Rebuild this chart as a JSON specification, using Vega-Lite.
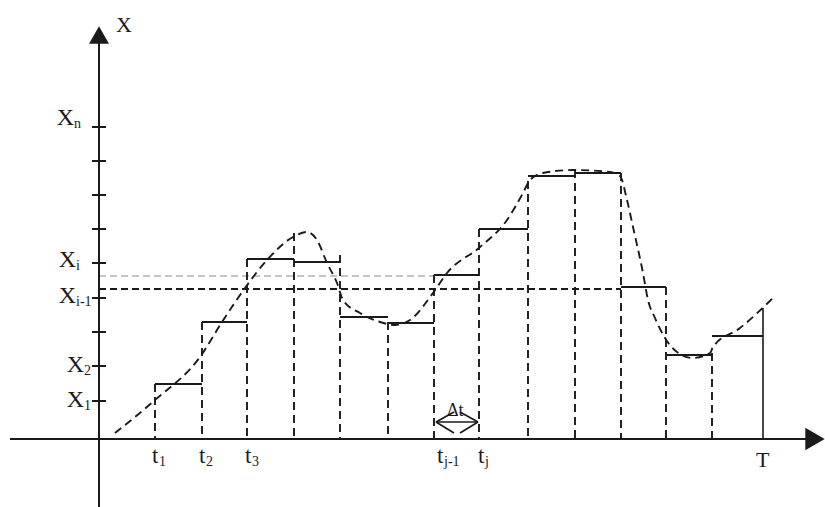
{
  "$schema": "https://vega.github.io/schema/vega-lite/v6.json",
  "width": 825,
  "height": 507,
  "autosize": "none",
  "padding": 0,
  "background": "white",
  "config": {"view": {"stroke": null}},
  "datasets": {
    "axes": [
      {"t": -89, "t2": 712, "x": 0, "x2": 0},
      {"t": 0, "t2": 0, "x": -68, "x2": 399}
    ],
    "arrows": [
      {"t": 0, "x": 404, "dir": "up"},
      {"t": 716, "x": 0, "dir": "right"}
    ],
    "ticks": [
      {"t": -7, "t2": 7, "x": 38}, {"t": -7, "t2": 7, "x": 73}, {"t": -7, "t2": 7, "x": 107},
      {"t": -7, "t2": 7, "x": 141}, {"t": -7, "t2": 7, "x": 176}, {"t": -7, "t2": 7, "x": 210},
      {"t": -7, "t2": 7, "x": 244}, {"t": -7, "t2": 7, "x": 278}, {"t": -7, "t2": 7, "x": 312}
    ],
    "steps": [
      {"t": 56, "t2": 103, "x": 55},
      {"t": 103, "t2": 148, "x": 117},
      {"t": 148, "t2": 195, "x": 180},
      {"t": 195, "t2": 241, "x": 177},
      {"t": 241, "t2": 289, "x": 122},
      {"t": 289, "t2": 335, "x": 116},
      {"t": 335, "t2": 380, "x": 164},
      {"t": 380, "t2": 429, "x": 210},
      {"t": 429, "t2": 476, "x": 263},
      {"t": 476, "t2": 522, "x": 266},
      {"t": 522, "t2": 567, "x": 152},
      {"t": 567, "t2": 613, "x": 84},
      {"t": 613, "t2": 664, "x": 103}
    ],
    "verticals": [
      {"t": 56, "x0": 0, "x": 55},
      {"t": 103, "x0": 0, "x": 117},
      {"t": 148, "x0": 0, "x": 180},
      {"t": 195, "x0": 0, "x": 206},
      {"t": 241, "x0": 0, "x": 184},
      {"t": 289, "x0": 0, "x": 117},
      {"t": 335, "x0": 0, "x": 164},
      {"t": 380, "x0": 0, "x": 210},
      {"t": 429, "x0": 0, "x": 258},
      {"t": 476, "x0": 0, "x": 269},
      {"t": 522, "x0": 0, "x": 266},
      {"t": 567, "x0": 0, "x": 152},
      {"t": 613, "x0": 0, "x": 86}
    ],
    "endline": [{"t": 664, "x0": 0, "x": 131}],
    "levelLight": [{"t": 0, "t2": 335, "x": 163}],
    "levelDark": [{"t": 0, "t2": 522, "x": 150}],
    "curve": [
      {"t": 16, "x": 6}, {"t": 56, "x": 39}, {"t": 101, "x": 82},
      {"t": 123, "x": 117}, {"t": 146, "x": 151}, {"t": 168, "x": 179},
      {"t": 194, "x": 202}, {"t": 208, "x": 207}, {"t": 218, "x": 199},
      {"t": 228, "x": 176}, {"t": 238, "x": 156}, {"t": 244, "x": 139},
      {"t": 261, "x": 126}, {"t": 281, "x": 117}, {"t": 296, "x": 114},
      {"t": 311, "x": 119}, {"t": 334, "x": 146}, {"t": 348, "x": 166},
      {"t": 381, "x": 192}, {"t": 408, "x": 219}, {"t": 424, "x": 246},
      {"t": 431, "x": 259}, {"t": 444, "x": 266}, {"t": 474, "x": 269},
      {"t": 511, "x": 267}, {"t": 521, "x": 263}, {"t": 528, "x": 239},
      {"t": 534, "x": 212}, {"t": 544, "x": 166}, {"t": 549, "x": 139},
      {"t": 556, "x": 121}, {"t": 566, "x": 101}, {"t": 578, "x": 87},
      {"t": 594, "x": 81}, {"t": 611, "x": 86}, {"t": 614, "x": 92},
      {"t": 641, "x": 111}, {"t": 674, "x": 141}
    ],
    "dtArrow": [
      {"t": 337, "t2": 379, "x": 17, "x2": 17},
      {"t": 337, "t2": 355, "x": 17, "x2": 27},
      {"t": 337, "t2": 355, "x": 17, "x2": 6},
      {"t": 379, "t2": 361, "x": 17, "x2": 27},
      {"t": 379, "t2": 361, "x": 17, "x2": 6}
    ],
    "yLabels": [
      {"base": "X", "sub": "n", "t": -25, "x": 314},
      {"base": "X", "sub": "i", "t": -23, "x": 172},
      {"base": "X", "sub": "i-1", "t": -23, "x": 136},
      {"base": "X", "sub": "2", "t": -15, "x": 67},
      {"base": "X", "sub": "1", "t": -15, "x": 32}
    ],
    "tLabels": [
      {"base": "t", "sub": "1", "t": 53, "x": -24},
      {"base": "t", "sub": "2", "t": 100, "x": -24},
      {"base": "t", "sub": "3", "t": 146, "x": -24},
      {"base": "t", "sub": "j-1", "t": 338, "x": -24},
      {"base": "t", "sub": "j", "t": 379, "x": -24}
    ],
    "bigLabels": [
      {"text": "X", "t": 17, "x": 407},
      {"text": "T", "t": 657, "x": -28}
    ],
    "smallLabels": [
      {"text": "Δt", "t": 348, "x": 23}
    ]
  },
  "encoding": {
    "x": {"field": "t", "type": "quantitative", "scale": {"domain": [-99, 726], "nice": false, "zero": false}, "axis": null},
    "y": {"field": "x", "type": "quantitative", "scale": {"domain": [-68, 439], "nice": false, "zero": false}, "axis": null}
  },
  "layer": [
    {
      "data": {"name": "levelLight"},
      "mark": {"type": "rule", "strokeDash": [7, 4], "strokeWidth": 1.2, "color": "#8a8a8a"},
      "encoding": {"x2": {"field": "t2"}}
    },
    {
      "data": {"name": "levelDark"},
      "mark": {"type": "rule", "strokeDash": [7, 4], "strokeWidth": 1.9, "color": "#1a1a1a"},
      "encoding": {"x2": {"field": "t2"}}
    },
    {
      "data": {"name": "verticals"},
      "mark": {"type": "rule", "strokeDash": [8, 5], "strokeWidth": 1.9, "color": "#1a1a1a"},
      "encoding": {"y2": {"field": "x0"}}
    },
    {
      "data": {"name": "curve"},
      "mark": {"type": "line", "interpolate": "monotone", "strokeDash": [8, 5], "strokeWidth": 1.9, "color": "#1a1a1a"},
      "encoding": {}
    },
    {
      "data": {"name": "steps"},
      "mark": {"type": "rule", "strokeWidth": 1.9, "color": "#1a1a1a"},
      "encoding": {"x2": {"field": "t2"}}
    },
    {
      "data": {"name": "endline"},
      "mark": {"type": "rule", "strokeWidth": 1.6, "color": "#1a1a1a"},
      "encoding": {"y2": {"field": "x0"}}
    },
    {
      "data": {"name": "axes"},
      "mark": {"type": "rule", "strokeWidth": 2, "color": "#1a1a1a"},
      "encoding": {"x2": {"field": "t2"}, "y2": {"field": "x2"}}
    },
    {
      "data": {"name": "ticks"},
      "mark": {"type": "rule", "strokeWidth": 2, "color": "#1a1a1a"},
      "encoding": {"x2": {"field": "t2"}}
    },
    {
      "data": {"name": "dtArrow"},
      "mark": {"type": "rule", "strokeWidth": 1.7, "color": "#1a1a1a"},
      "encoding": {"x2": {"field": "t2"}, "y2": {"field": "x2"}}
    },
    {
      "data": {"name": "arrows"},
      "mark": {"type": "point", "filled": true, "color": "#1a1a1a", "opacity": 1},
      "encoding": {
        "shape": {"field": "dir", "type": "nominal", "scale": {"domain": ["up", "right"], "range": ["triangle-up", "triangle-right"]}, "legend": null},
        "size": {"field": "dir", "type": "nominal", "scale": {"domain": ["up", "right"], "range": [400, 500]}, "legend": null}
      }
    },
    {
      "data": {"name": "yLabels"},
      "mark": {"type": "text", "align": "right", "baseline": "alphabetic", "font": "Liberation Serif", "fontSize": 24, "color": "#1a1a1a"},
      "encoding": {"text": {"field": "base"}}
    },
    {
      "data": {"name": "yLabels"},
      "mark": {"type": "text", "align": "left", "baseline": "alphabetic", "font": "Liberation Serif", "fontSize": 14, "dx": 0, "dy": 3, "color": "#1a1a1a"},
      "encoding": {"text": {"field": "sub"}}
    },
    {
      "data": {"name": "tLabels"},
      "mark": {"type": "text", "align": "left", "baseline": "alphabetic", "font": "Liberation Serif", "fontSize": 23, "color": "#1a1a1a"},
      "encoding": {"text": {"field": "base"}}
    },
    {
      "data": {"name": "tLabels"},
      "mark": {"type": "text", "align": "left", "baseline": "alphabetic", "font": "Liberation Serif", "fontSize": 14, "dx": 7, "dy": 3, "color": "#1a1a1a"},
      "encoding": {"text": {"field": "sub"}}
    },
    {
      "data": {"name": "bigLabels"},
      "mark": {"type": "text", "align": "left", "baseline": "alphabetic", "font": "Liberation Serif", "fontSize": 22, "color": "#1a1a1a"},
      "encoding": {"text": {"field": "text"}}
    },
    {
      "data": {"name": "smallLabels"},
      "mark": {"type": "text", "align": "left", "baseline": "alphabetic", "font": "Liberation Serif", "fontSize": 18, "color": "#1a1a1a"},
      "encoding": {"text": {"field": "text"}}
    }
  ]
}
